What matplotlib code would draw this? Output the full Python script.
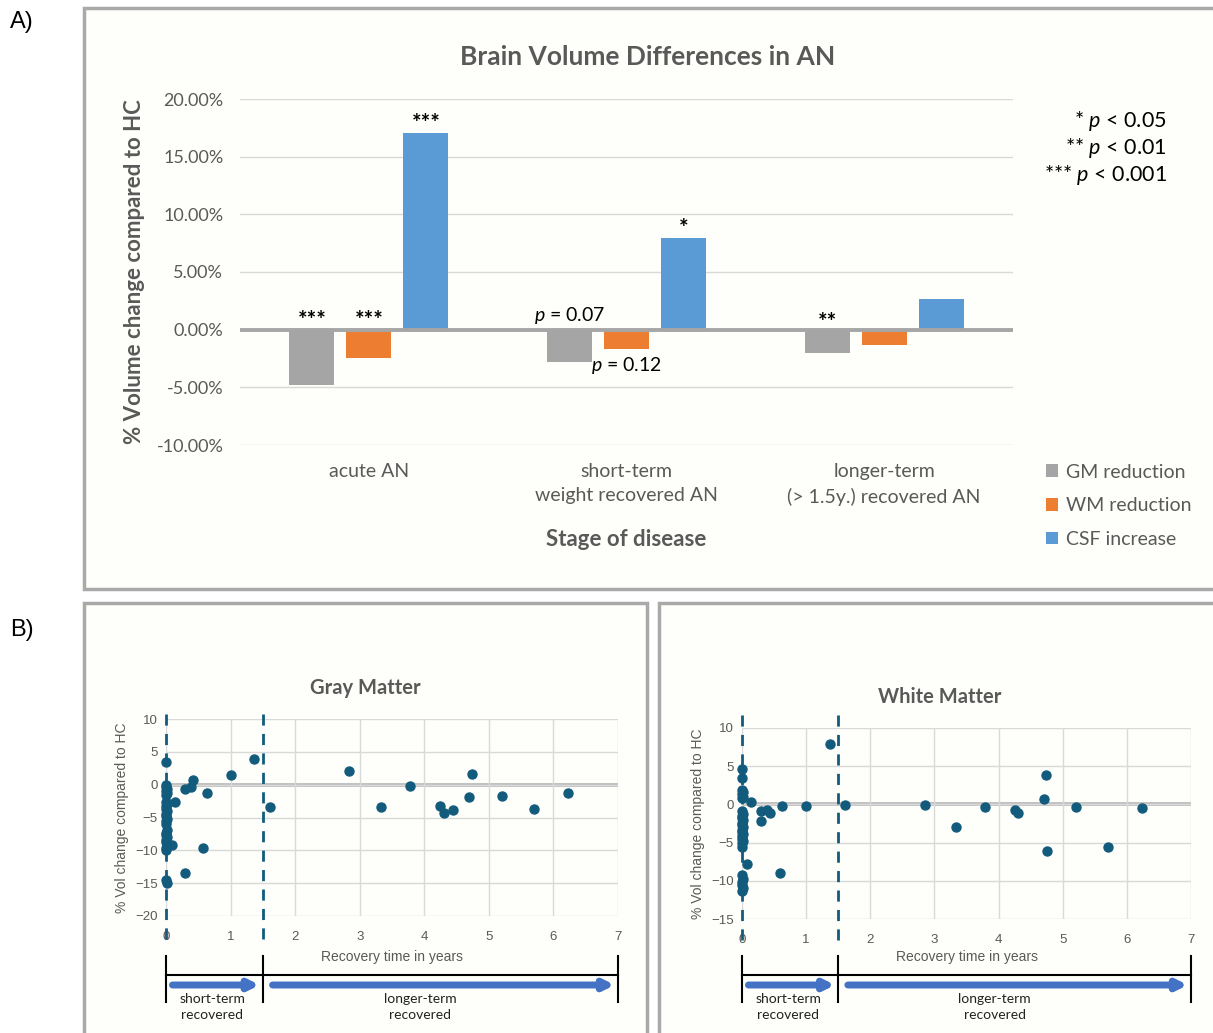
import numpy as np
import matplotlib
matplotlib.use("Agg")
import matplotlib.pyplot as plt
from matplotlib.patches import Rectangle
from matplotlib import transforms

plt.rcParams['font.family'] = ['Lato', 'DejaVu Sans']
plt.rcParams['mathtext.fontset'] = 'custom'
plt.rcParams['mathtext.rm'] = 'Lato'
plt.rcParams['mathtext.it'] = 'Lato:italic'
plt.rcParams['mathtext.bf'] = 'Lato:bold'

## Datos panel A
stages = ['acute AN', 'short-term\nweight recovered AN', 'longer-term\n(> 1.5y.) recovered AN']
gm_red = [-4.8, -2.8, -2.0]
wm_red = [-2.45, -1.7, -1.35]
csf_inc = [17.05, 7.95, 2.65]
yticks_a = [-10, -5, 0, 5, 10, 15, 20]

## Datos panel B (tiempo de recuperacion en anios, % cambio)
gm_time = [0, 0, 0, 0.01, 0, 0.01, 0, 0, 0.01, 0, 0, 0.01, 0, 0, 0.01, 0, 0, 0.01, 0, 0, 0.01, 0, 0, 0.01, 0, 0, 0, 0.01,
           0.09, 0.14, 0.29, 0.39, 0.42, 0.63, 1.0, 1.36, 0.58, 0.30,
           1.61, 2.84, 3.33, 3.78, 4.24, 4.30, 4.45, 4.70, 4.74, 5.20, 5.70, 6.22]
gm_change = [3.4, 0.0, -0.3, -0.6, -1.0, -1.3, -1.6, -2.6, -3.0, -3.3, -3.7, -4.0, -4.4, -4.8, -5.2, -5.6, -6.0, -6.9,
             -7.3, -7.6, -8.0, -8.4, -8.8, -9.3, -9.7, -10.0, -14.5, -14.9,
             -9.15, -2.7, -0.6, -0.3, 0.7, -1.3, 1.5, 3.9, -9.65, -13.5,
             -3.35, 2.1, -3.45, -0.15, -3.25, -4.3, -3.8, -1.9, 1.55, -1.65, -3.7, -1.2]

wm_time = [0, 0, 0, 0.01, 0, 0.01, 0, 0, 0.01, 0, 0, 0.01, 0, 0, 0.01, 0, 0, 0.01, 0, 0, 0.01, 0, 0, 0, 0.01, 0, 0, 0.01, 0,
           0.14, 0.30, 0.39, 0.43, 0.30, 0.08, 0.59, 0.63, 1.0, 1.37,
           1.61, 2.85, 3.33, 3.79, 4.25, 4.31, 4.71, 4.74, 4.76, 5.21, 5.71, 6.23]
wm_change = [4.6, 3.4, 1.9, 1.6, 1.3, 1.0, 0.8, -0.9, -1.2, -1.5, -1.8, -2.1, -2.4, -2.7, -3.0, -3.3, -3.6, -3.9,
             -4.2, -4.5, -4.8, -5.1, -5.6, -9.3, -9.7, -10.1, -10.5, -10.9, -11.4,
             0.35, -0.9, -0.75, -1.1, -2.15, -7.8, -9.0, -0.15, -0.25, 7.9,
             -0.05, -0.1, -3.0, -0.3, -0.75, -1.15, 0.75, 3.9, -6.05, -0.3, -5.6, -0.45]

## Colores
c_gm = '#a5a5a5'
c_wm = '#ed7d31'
c_csf = '#5b9bd5'
c_dot = '#125b7c'
c_txt = '#595959'
c_grid = '#d9d9d9'
c_arrow = '#4472c4'
bg = '#fefefa'

W, H = 1213, 1033
fig = plt.figure(figsize=(W/100., H/100.), dpi=100)
fig.patch.set_facecolor('white')

def fx(px):
    return px/float(W)

def fy(py):
    return 1 - py/float(H)

def caja(x0, y0, x1, y1):
    r = Rectangle((fx(x0), fy(y1)), fx(x1)-fx(x0), fy(y0)-fy(y1), transform=fig.transFigure,
                  facecolor=bg, edgecolor='#a9a9a9', lw=2.5, zorder=-5)
    fig.patches.append(r)

caja(84, 8, 1225, 589)
caja(84, 603, 647, 1045)
caja(659, 603, 1225, 1045)

fig.text(fx(10), fy(22), 'A)', fontsize=17, family='Liberation Sans', va='center')
fig.text(fx(10), fy(630), 'B)', fontsize=17, family='Liberation Sans', va='center')

## Panel A
ax = fig.add_axes([fx(240), fy(445), fx(1013)-fx(240), fy(99)-fy(445)])
ax.set_facecolor('none')
x = np.arange(len(stages))
bw = 0.175
off = 0.221
b1 = ax.bar(x-off, gm_red, bw, color=c_gm, label='GM reduction', zorder=3)
b2 = ax.bar(x, wm_red, bw, color=c_wm, label='WM reduction', zorder=3)
b3 = ax.bar(x+off, csf_inc, bw, color=c_csf, label='CSF increase', zorder=3)
ax.set_xlim(-0.5, 2.5)
ax.set_ylim(-10, 20)
ax.set_yticks(yticks_a)
ax.set_yticklabels(['%.2f%%' % v for v in yticks_a], color=c_txt, fontsize=13)
ax.set_xticks(x)
ax.set_xticklabels(stages, color=c_txt, fontsize=14, linespacing=1.5)
ax.tick_params(length=0, pad=12)
ax.tick_params(axis='x', pad=13)
for s in ax.spines.values():
    s.set_visible(False)
ax.grid(axis='y', color=c_grid, lw=1, zorder=0)
ax.axhline(0, color='#a6a6a6', lw=2.8, zorder=4)
fig.text(fx(648), fy(57), 'Brain Volume Differences in AN', ha='center', va='center',
         fontsize=19, fontweight='bold', color=c_txt)
ax.set_ylabel('% Volume change compared to HC', fontsize=16, fontweight='bold', color=c_txt, labelpad=8)
ax.set_xlabel('Stage of disease', fontsize=16, fontweight='bold', color=c_txt, labelpad=17)

# estrellas de significancia
kw = dict(ha='center', va='bottom', fontsize=16, fontweight='bold')
ax.text(0-off, -0.1, '***', **kw)
ax.text(0, -0.1, '***', **kw)
ax.text(0+off, csf_inc[0]-0.1, '***', **kw)
ax.text(1+off, csf_inc[1]-0.1, '*', **kw)
ax.text(2-off, -0.25, '**', **kw)
ax.text(0.78, 1.27, r'$\it{p}$ = 0.07', ha='center', va='center', fontsize=14)
ax.text(1.0, -3.15, r'$\it{p}$ = 0.12', ha='center', va='center', fontsize=14)

for i, t in enumerate([r'* $\it{p}$ < 0.05', r'** $\it{p}$ < 0.01', r'*** $\it{p}$ < 0.001']):
    fig.text(fx(1167), fy(121+27*i), t, ha='right', va='center', fontsize=15.5)

ax.legend(handles=[b1, b2, b3], loc='upper left', bbox_to_anchor=(fx(1028), fy(446)),
          bbox_transform=fig.transFigure, frameon=False, fontsize=14, labelcolor=c_txt,
          handlelength=0.62, handleheight=0.62, handletextpad=0.45, labelspacing=0.86)

## Panel B
def dispersion(x0, x1, ytop, ybot, ylim, yticks, tx, ty, titulo, tiempo, cambio, dash_y):
    a = fig.add_axes([fx(x0), fy(ybot), fx(x1)-fx(x0), fy(ytop)-fy(ybot)])
    a.set_facecolor('none')
    a.set_xlim(0, 7)
    a.set_ylim(*ylim)
    a.set_xticks(range(8))
    a.set_yticks(yticks)
    for s in a.spines.values():
        s.set_visible(False)
    a.grid(True, color=c_grid, lw=1, zorder=0)
    a.tick_params(length=0, labelsize=9.5, labelcolor=c_txt, pad=6)
    a.tick_params(axis='x', pad=11)
    for lab in a.get_xticklabels() + a.get_yticklabels():
        lab.set_family('Liberation Sans')
    a.axhline(0, color='#bfbfbf', lw=2.8, zorder=1)
    for xv in [0, 1.5]:
        a.plot([xv, xv], dash_y, color=c_dot, lw=2, ls=(0, (4, 3)), clip_on=False, zorder=2)
    a.scatter(tiempo, cambio, s=42, color=c_dot, zorder=3, clip_on=False)
    a.set_ylabel('% Vol change compared to HC', fontsize=10, color=c_txt, family='Liberation Sans', labelpad=4)
    fig.text(fx(tx), fy(ty), titulo, ha='center', va='center', fontsize=14.5, fontweight='bold', color=c_txt)

    tr = transforms.blended_transform_factory(a.transData, fig.transFigure)
    for xv in [0, 1.5, 7]:
        a.plot([xv, xv], [fy(956), fy(1002)], color='black', lw=1.5, transform=tr, clip_on=False)
    a.plot([0, 7], [fy(975), fy(975)], color='black', lw=1.5, transform=tr, clip_on=False)
    for xa, xb in [(0.1, 1.45), (1.65, 6.95)]:
        a.annotate('', xy=(xb, fy(985)), xytext=(xa, fy(985)), xycoords=tr, textcoords=tr,
                   arrowprops=dict(arrowstyle='-|>', lw=5, color=c_arrow, mutation_scale=14,
                                   shrinkA=0, shrinkB=0), annotation_clip=False)
    a.text(3.5, fy(957), 'Recovery time in years', transform=tr, ha='center', va='center',
           fontsize=10, color=c_txt, family='Liberation Sans')
    a.text(0.72, fy(1007), 'short-term\nrecovered', transform=tr, ha='center', va='center',
           fontsize=10, color='#222222', linespacing=1.35)
    a.text(3.94, fy(1007), 'longer-term\nrecovered', transform=tr, ha='center', va='center',
           fontsize=10, color='#222222', linespacing=1.35)
    return a

dispersion(166, 618, 719, 916, (-20, 10), [-20, -15, -10, -5, 0, 5, 10], 365, 688, 'Gray Matter',
           gm_time, gm_change, [-23.5, 11.7])
dispersion(742, 1191, 728, 919, (-15, 10), [-15, -10, -5, 0, 5, 10], 940, 697, 'White Matter',
           wm_time, wm_change, [-17.8, 12.1])

fig.savefig('out.png', dpi=100, facecolor=fig.get_facecolor())
